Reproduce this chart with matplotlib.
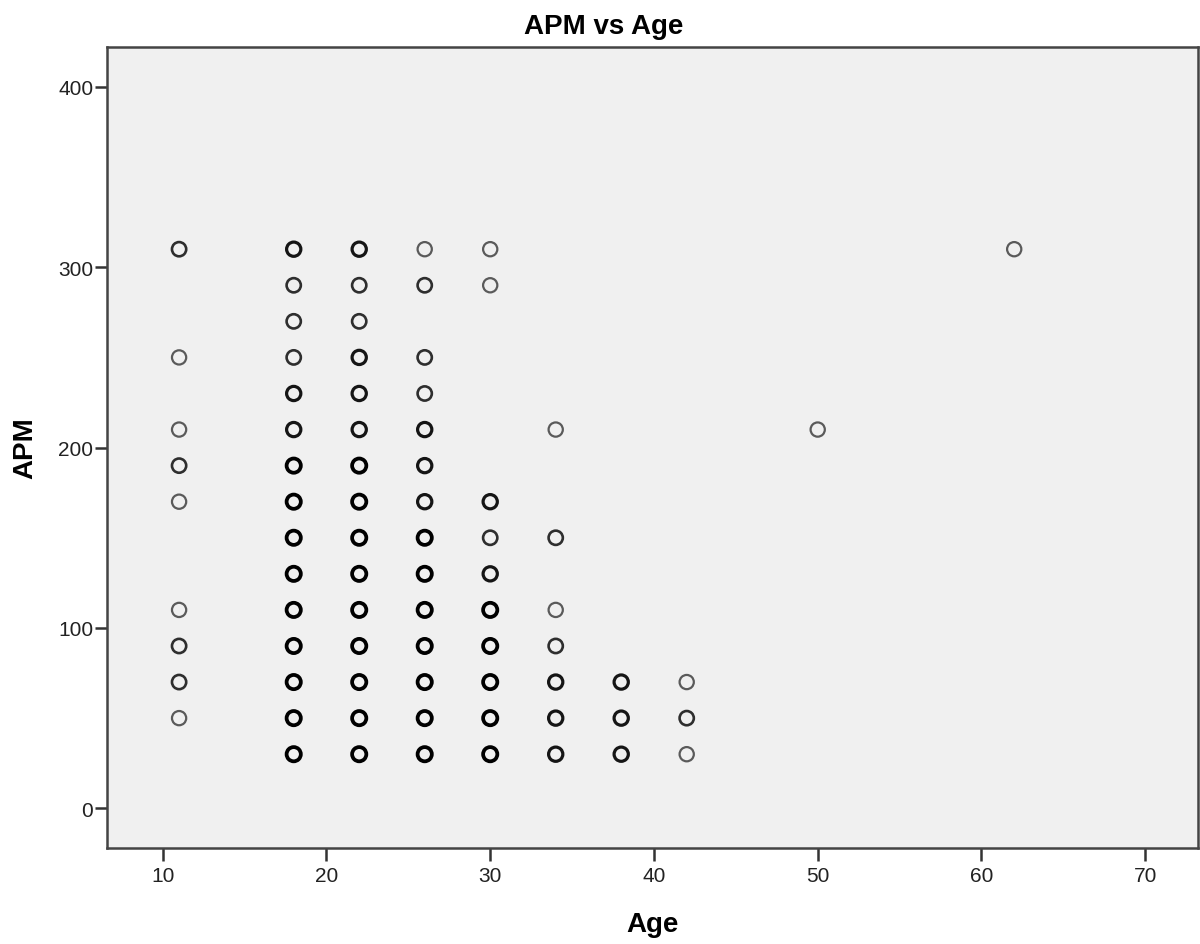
import numpy as np
import matplotlib
matplotlib.use('Agg')
from matplotlib import pyplot as plt

plt.rcParams['font.family'] = ['Liberation Sans', 'DejaVu Sans']

# Distinct (age, APM) cells and how many players fall on each one
# (overlapping circles in the original get darker with more players)
ages = [11, 11, 11, 11, 11, 11, 11, 11, 11,
        18, 18, 18, 18, 18, 18, 18, 18, 18, 18, 18, 18, 18, 18, 18,
        22, 22, 22, 22, 22, 22, 22, 22, 22, 22, 22, 22, 22, 22, 22,
        26, 26, 26, 26, 26, 26, 26, 26, 26, 26, 26, 26, 26, 26,
        30, 30, 30, 30, 30, 30, 30, 30, 30, 30,
        34, 34, 34, 34, 34, 34, 34,
        38, 38, 38,
        42, 42, 42,
        50,
        62]
apm = [310, 250, 210, 190, 170, 110, 90, 70, 50,
       310, 290, 270, 250, 230, 210, 190, 170, 150, 130, 110, 90, 70, 50, 30,
       310, 290, 270, 250, 230, 210, 190, 170, 150, 130, 110, 90, 70, 50, 30,
       310, 290, 250, 230, 210, 190, 170, 150, 130, 110, 90, 70, 50, 30,
       310, 290, 170, 150, 130, 110, 90, 70, 50, 30,
       210, 150, 110, 90, 70, 50, 30,
       70, 50, 30,
       70, 50, 30,
       210,
       310]
counts = [2, 1, 1, 2, 1, 1, 2, 2, 1,
          3, 2, 2, 2, 3, 3, 4, 4, 4, 4, 4, 4, 4, 4, 4,
          3, 2, 2, 3, 3, 3, 4, 4, 4, 4, 4, 4, 4, 4, 4,
          1, 2, 2, 2, 3, 3, 3, 4, 4, 4, 4, 4, 4, 4,
          1, 1, 3, 2, 3, 4, 4, 4, 4, 4,
          1, 2, 1, 2, 3, 3, 3,
          3, 3, 3,
          1, 2, 1,
          1,
          1]

x_ticks = [10, 20, 30, 40, 50, 60, 70]
y_ticks = [0, 100, 200, 300, 400]

fig = plt.figure(figsize=(12, 9.45), dpi=100)
ax = fig.add_axes([0.0892, 0.1016, 0.9088, 0.8474])
ax.set_facecolor('#f0f0f0')

# darker / thicker ring for cells with more overlapping cases
shade = {1: '#5a5a5a', 2: '#2e2e2e', 3: '#151515', 4: '#000000'}
width = {1: 1.6, 2: 1.9, 3: 2.3, 4: 2.7}
for c in [1, 2, 3, 4]:
    xs = [a for a, n in zip(ages, counts) if n == c]
    ys = [p for p, n in zip(apm, counts) if n == c]
    ax.scatter(xs, ys, s=105, facecolors='none', edgecolors=shade[c],
               linewidths=width[c], zorder=3)

ax.set_xlim(6.6, 73.2)
ax.set_ylim(-22, 422)
ax.set_xticks(x_ticks)
ax.set_yticks(y_ticks)
ax.tick_params(axis='both', direction='out', length=9, width=1.8,
               color='#333333', labelsize=15, labelcolor='#222222')
ax.tick_params(axis='x', pad=4)
ax.tick_params(axis='y', pad=1)

for sp in ax.spines.values():
    sp.set_color('#444444')
    sp.set_linewidth(1.8)

ax.set_xlabel('Age', fontsize=20, fontweight='bold', labelpad=19)
ax.set_ylabel('APM', fontsize=20, fontweight='bold', labelpad=14)
fig.suptitle('APM vs Age', x=0.503, y=0.971, va='center',
             fontsize=20, fontweight='bold')

fig.savefig('out.png', dpi=100)
